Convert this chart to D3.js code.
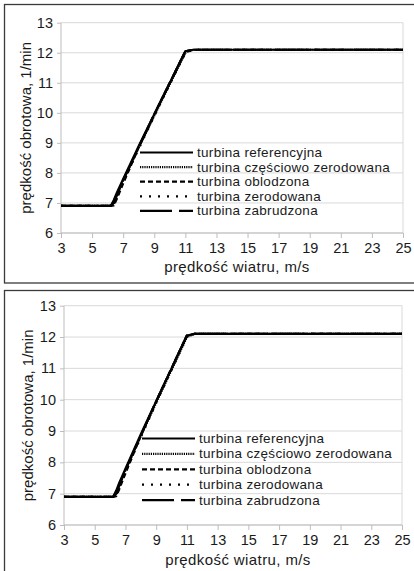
<!DOCTYPE html>
<html>
<head>
    <meta charset="utf-8">
    <script src="https://cdnjs.cloudflare.com/ajax/libs/d3/7.8.5/d3.min.js"></script>
    <style>
        body { margin: 0; background: #fff; }
        svg { display: block; font-family: "Liberation Sans", Arial, sans-serif; }
    </style>
</head>
<body>
    <svg id="chart" width="414" height="571"></svg>
    <script>
        // Dane: prędkość wiatru [m/s] i prędkość obrotowa [1/min]
        const windSpeed = [3, 5, 6, 6.2, 6.4, 6.6, 7, 8, 9, 10, 11, 11.5, 13, 15, 17, 19, 21, 23, 25];
        const referencyjna = [6.9, 6.9, 6.9, 6.9, 7.1, 7.35, 7.8, 8.9, 9.95, 11.0, 12.05, 12.1, 12.1, 12.1, 12.1, 12.1, 12.1, 12.1, 12.1];
        const czesciowoZerodowana = [6.9, 6.9, 6.9, 6.9, 7.05, 7.3, 7.75, 8.85, 9.9, 10.95, 12.0, 12.1, 12.1, 12.1, 12.1, 12.1, 12.1, 12.1, 12.1];
        const oblodzona = [6.9, 6.9, 6.9, 6.9, 6.92, 7.15, 7.65, 8.85, 9.95, 11.0, 12.05, 12.1, 12.1, 12.1, 12.1, 12.1, 12.1, 12.1, 12.1];
        const zerodowana = [6.9, 6.9, 6.9, 6.9, 6.95, 7.2, 7.7, 8.8, 9.9, 10.95, 12.0, 12.1, 12.1, 12.1, 12.1, 12.1, 12.1, 12.1, 12.1];
        const zabrudzona = [6.9, 6.9, 6.9, 6.9, 7.0, 7.25, 7.75, 8.85, 9.95, 11.0, 12.05, 12.1, 12.1, 12.1, 12.1, 12.1, 12.1, 12.1, 12.1];

        const seriesNames = ["turbina referencyjna", "turbina częściowo zerodowana", "turbina oblodzona", "turbina zerodowana", "turbina zabrudzona"];
        const seriesValues = [referencyjna, czesciowoZerodowana, oblodzona, zerodowana, zabrudzona];
        const dashes = [null, "1.2,1", "5,3", "2,7", "32,7"];

        const xTicks = [3, 5, 7, 9, 11, 13, 15, 17, 19, 21, 23, 25];
        const yTicks = [6, 7, 8, 9, 10, 11, 12, 13];
        const xTitle = "prędkość wiatru, m/s";
        const yTitle = "prędkość obrotowa, 1/min";

        const svg = d3.select("#chart");

        // Dwa panele (ten sam wykres)
        const panels = [
            {box: [4.5, 4.5, 420, 278.5], left: 61, right: 403, top: 22.7, bottom: 233,
             xTit: 272, yTit: 25, legX: 140, legY: 152.5, legStep: 14.6},
            {box: [4.5, 290.5, 420, 300], left: 64, right: 402, top: 305.7, bottom: 525,
             xTit: 565, yTit: 27, legX: 142, legY: 438.5, legStep: 15.4}
        ];

        panels.forEach(p => {
            svg.append("rect")
                .attr("x", p.box[0]).attr("y", p.box[1])
                .attr("width", p.box[2]).attr("height", p.box[3])
                .attr("fill", "none")
                .attr("stroke", "#3a3a3a")
                .attr("stroke-width", 1.3);

            const x = d3.scaleLinear().domain([3, 25]).range([p.left, p.right]);
            const y = d3.scaleLinear().domain([6, 13]).range([p.bottom, p.top]);

            const g = svg.append("g");

            // siatka pozioma
            g.selectAll(".grid")
                .data(yTicks)
                .join("line")
                .attr("x1", p.left).attr("x2", p.right)
                .attr("y1", d => y(d)).attr("y2", d => y(d))
                .attr("stroke", "#d9d9d9")
                .attr("stroke-width", 1);

            // ramka obszaru wykresu
            g.append("line")
                .attr("x1", p.right).attr("x2", p.right)
                .attr("y1", p.top).attr("y2", p.bottom)
                .attr("stroke", "#d9d9d9");
            g.append("line")
                .attr("x1", p.left).attr("x2", p.left)
                .attr("y1", p.top).attr("y2", p.bottom)
                .attr("stroke", "#bdbdbd");
            g.append("line")
                .attr("x1", p.left).attr("x2", p.right)
                .attr("y1", p.bottom).attr("y2", p.bottom)
                .attr("stroke", "#bdbdbd");

            // osie
            const xAxis = g.append("g")
                .attr("transform", `translate(0,${p.bottom})`)
                .call(d3.axisBottom(x).tickValues(xTicks).tickSize(5).tickPadding(5));
            xAxis.select(".domain").remove();
            xAxis.selectAll("line").attr("stroke", "#bdbdbd");
            xAxis.selectAll("text")
                .attr("font-size", 14.5)
                .attr("fill", "#1a1a1a")
                .attr("font-family", "Liberation Sans, Arial, sans-serif");

            const yAxis = g.append("g")
                .attr("transform", `translate(${p.left},0)`)
                .call(d3.axisLeft(y).tickValues(yTicks).tickFormat(d3.format("d")).tickSize(4).tickPadding(4));
            yAxis.select(".domain").remove();
            yAxis.selectAll("line").attr("stroke", "#bdbdbd");
            yAxis.selectAll("text")
                .attr("font-size", 14.5)
                .attr("fill", "#1a1a1a")
                .attr("font-family", "Liberation Sans, Arial, sans-serif");

            // tytuły osi
            g.append("text")
                .attr("x", (p.left + p.right) / 2 + 5)
                .attr("y", p.xTit)
                .attr("text-anchor", "middle")
                .attr("font-size", 15)
                .attr("letter-spacing", 0.4)
                .attr("fill", "#1a1a1a")
                .text(xTitle);

            g.append("text")
                .attr("transform", `translate(${p.yTit},${(p.top + p.bottom) / 2}) rotate(-90)`)
                .attr("text-anchor", "middle")
                .attr("dominant-baseline", "central")
                .attr("font-size", 15)
                .attr("fill", "#1a1a1a")
                .text(yTitle);

            // serie
            const line = d3.line()
                .x((d, i) => x(windSpeed[i]))
                .y(d => y(d));

            seriesValues.forEach((vals, i) => {
                g.append("path")
                    .datum(vals)
                    .attr("fill", "none")
                    .attr("stroke", "#000")
                    .attr("stroke-width", 2.2)
                    .attr("stroke-linejoin", "round")
                    .attr("stroke-dasharray", dashes[i])
                    .attr("d", line);
            });

            // legenda
            const leg = g.append("g");
            seriesNames.forEach((name, i) => {
                const ly = p.legY + i * p.legStep;
                leg.append("line")
                    .attr("x1", p.legX).attr("x2", p.legX + 53)
                    .attr("y1", ly).attr("y2", ly)
                    .attr("stroke", "#000")
                    .attr("stroke-width", 2.2)
                    .attr("stroke-dasharray", dashes[i]);
                leg.append("text")
                    .attr("x", p.legX + 57)
                    .attr("y", ly)
                    .attr("dominant-baseline", "central")
                    .attr("font-size", 13.5)
                    .attr("letter-spacing", 0.3)
                    .attr("fill", "#1a1a1a")
                    .text(name);
            });
        });
    </script>
</body>
</html>
